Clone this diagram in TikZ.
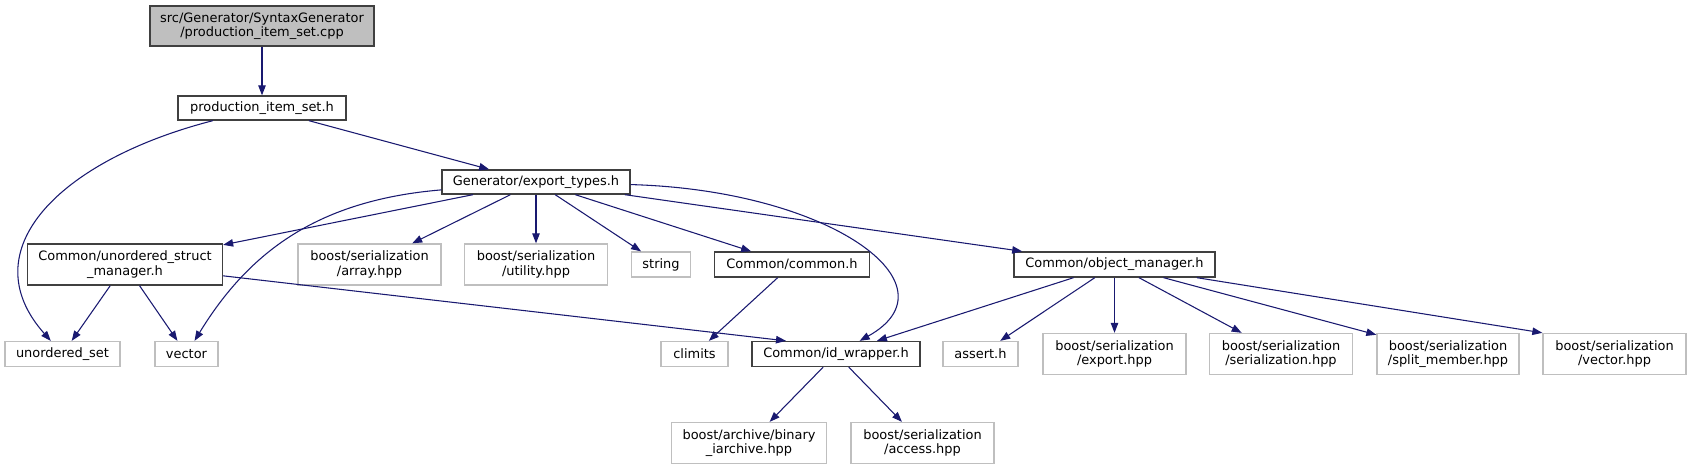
\documentclass[tikz,border=0pt]{standalone}
\usepackage{fontspec}
\setmainfont{DejaVu Sans}
\usetikzlibrary{arrows.meta}
\definecolor{doxyEdge}{HTML}{191970}
\definecolor{doxyGrey}{HTML}{BFBFBF}
\definecolor{doxyBorder}{HTML}{404040}
\begin{document}
\begin{tikzpicture}
% include graph of production_item_set.cpp
\def\pxsz{0.75pt}
\providecommand{\doxyFont}{\fontsize{9.7}{10.9}\selectfont}
\providecommand{\doxyBoxLineWidth}{1pt}
\providecommand{\doxyEdgeLineWidth}{0.8pt}
\begin{scope}[x=\pxsz, y=-\pxsz,
  box/.style={draw=doxyBorder, fill=white, line width=\doxyBoxLineWidth, inner sep=0pt, align=center, font=\doxyFont},
  rootbox/.style={box, fill=doxyGrey},
  extbox/.style={box, draw=doxyGrey},
  dep/.style={draw=doxyEdge, line width=\doxyEdgeLineWidth, -{Triangle[length=7.5pt,width=5.6pt]}}]
  \useasboundingbox (0,0) rectangle (1691,469);
  % Rank 0 and 1
  \node[rootbox, minimum width=224*\pxsz, minimum height=40*\pxsz] (cpp) at (262,26) {src/Generator/SyntaxGenerator\\/production\_item\_set.cpp};
  \node[box, minimum width=168*\pxsz, minimum height=24*\pxsz] (prodset) at (262,108) {production\_item\_set.h};
  % Rank 2
  \node[box, minimum width=188*\pxsz, minimum height=24*\pxsz] (exporttypes) at (536,182) {Generator/export\_types.h};
  % Rank 3
  \node[box, minimum width=195*\pxsz, minimum height=41*\pxsz] (usmanager) at (125,264.5) {Common/unordered\_struct\\\_manager.h};
  \node[extbox, minimum width=143*\pxsz, minimum height=41*\pxsz] (arrayhpp) at (369.5,264.5) {boost/serialization\\/array.hpp};
  \node[extbox, minimum width=143*\pxsz, minimum height=41*\pxsz] (utilityhpp) at (536,264.5) {boost/serialization\\/utility.hpp};
  \node[extbox, minimum width=59*\pxsz, minimum height=25*\pxsz] (stringh) at (661,264.5) {string};
  \node[box, minimum width=155*\pxsz, minimum height=25*\pxsz] (commonh) at (792,264.5) {Common/common.h};
  \node[box, minimum width=201*\pxsz, minimum height=25*\pxsz] (objmanager) at (1114.5,264.5) {Common/object\_manager.h};
  % Rank 4
  \node[extbox, minimum width=115*\pxsz, minimum height=25*\pxsz] (uset) at (62.5,354) {unordered\_set};
  \node[extbox, minimum width=63*\pxsz, minimum height=25*\pxsz] (vectorh) at (186.5,354) {vector};
  \node[extbox, minimum width=67*\pxsz, minimum height=25*\pxsz] (climits) at (694.5,354) {climits};
  \node[box, minimum width=168*\pxsz, minimum height=25*\pxsz] (idwrapper) at (836,354) {Common/id\_wrapper.h};
  \node[extbox, minimum width=75*\pxsz, minimum height=25*\pxsz] (asserth) at (980.5,354) {assert.h};
  \node[extbox, minimum width=143*\pxsz, minimum height=41*\pxsz] (exporthpp) at (1114.5,354) {boost/serialization\\/export.hpp};
  \node[extbox, minimum width=143*\pxsz, minimum height=41*\pxsz] (serialhpp) at (1281,354) {boost/serialization\\/serialization.hpp};
  \node[extbox, minimum width=142*\pxsz, minimum height=41*\pxsz] (splithpp) at (1448,354) {boost/serialization\\/split\_member.hpp};
  \node[extbox, minimum width=143*\pxsz, minimum height=41*\pxsz] (vectorhpp) at (1614.5,354) {boost/serialization\\/vector.hpp};
  % Rank 5
  \node[extbox, minimum width=155*\pxsz, minimum height=41*\pxsz] (binarch) at (749,443) {boost/archive/binary\\\_iarchive.hpp};
  \node[extbox, minimum width=143*\pxsz, minimum height=41*\pxsz] (accesshpp) at (922.5,443) {boost/serialization\\/access.hpp};
  % Edges
  \draw[dep] (cpp) -- (prodset);
  \draw[dep] (prodset) .. controls (60,160) and (-30,250) .. (uset);
  \draw[dep] (prodset) -- (exporttypes);
  \draw[dep] (exporttypes) -- (usmanager);
  \draw[dep] (exporttypes) .. controls (320,200) and (250,250) .. (vectorh);
  \draw[dep] (exporttypes) -- (arrayhpp);
  \draw[dep] (exporttypes) -- (utilityhpp);
  \draw[dep] (exporttypes) -- (stringh);
  \draw[dep] (exporttypes) -- (commonh);
  \draw[dep] (exporttypes) .. controls (830,190) and (960,285) .. (idwrapper);
  \draw[dep] (exporttypes) -- (objmanager);
  \draw[dep] (usmanager) -- (uset);
  \draw[dep] (usmanager) -- (vectorh);
  \draw[dep] (usmanager) -- ([xshift=-50*\pxsz]idwrapper.north);
  \draw[dep] (commonh) -- (climits);
  \draw[dep] (objmanager) -- (idwrapper);
  \draw[dep] (objmanager) -- (asserth);
  \draw[dep] (objmanager) -- (exporthpp);
  \draw[dep] (objmanager) -- (serialhpp);
  \draw[dep] (objmanager) -- (splithpp);
  \draw[dep] (objmanager) -- (vectorhpp.north west);
  \draw[dep] (idwrapper) -- (binarch);
  \draw[dep] (idwrapper) -- (accesshpp);
\end{scope}
\end{tikzpicture}
\end{document}
